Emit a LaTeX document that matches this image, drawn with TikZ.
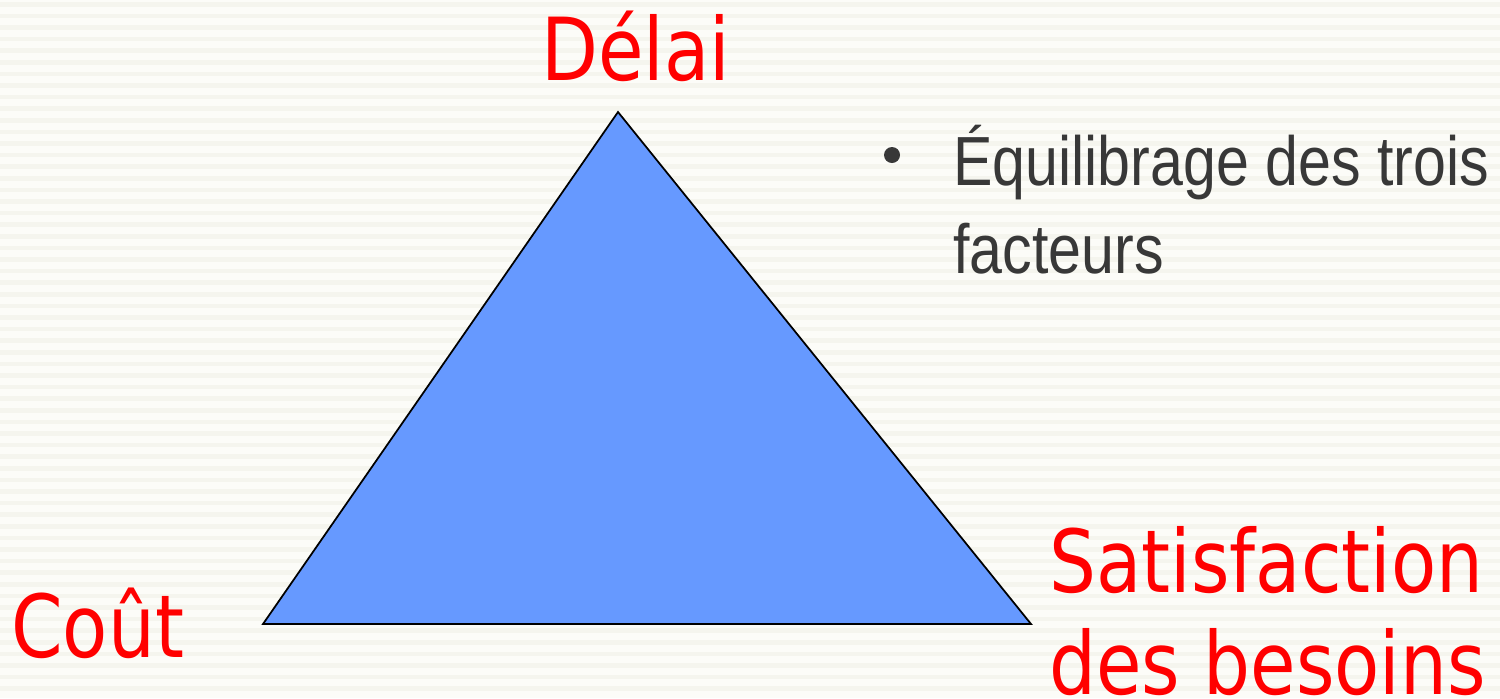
\documentclass[tikz,border=0pt]{standalone}
\usepackage{fontspec}
\newfontfamily\redfont[FakeStretch=0.85]{DejaVu Sans}
\newfontfamily\grayfont[FakeStretch=0.85]{Liberation Sans}
\definecolor{bgbase}{RGB}{252,252,248}
\definecolor{bgstripe}{RGB}{245,245,238}
\definecolor{trifill}{RGB}{102,153,255}
\definecolor{labelred}{RGB}{255,0,0}
\definecolor{bodygray}{RGB}{56,56,56}
\tikzset{
  redlabel/.style={anchor=base west, inner sep=0pt, text=labelred,
    font=\redfont\fontsize{49.5}{58}\selectfont},
  graytext/.style={anchor=base west, inner sep=0pt, text=bodygray,
    font=\grayfont\fontsize{39.6}{48}\selectfont},
  bulletdot/.style={circle, fill=bodygray, inner sep=0pt, minimum size=3.2mm},
  tri/.style={draw=black, line width=0.35mm, fill=trifill, line join=miter}
}
\begin{document}
\begin{tikzpicture}[x=0.02cm, y=-0.02cm]
\useasboundingbox (0,0) rectangle (1500,698);
\fill[bgbase] (0,0) rectangle (1500,698);
\foreach \yy in {2,13.6,...,698} {
  \fill[bgstripe] (0,\yy) rectangle (1500,\yy+4.5);
}
% triangle
\coordinate (apex) at (618,112);
\coordinate (bl) at (263,624);
\coordinate (br) at (1031,624);
\draw[tri] (apex) -- (br) -- (bl) -- cycle;
% labels
\node[redlabel] (delai) at (541,80) {Délai};
\node[redlabel] (cout) at (11,657) {Coût};
\node[redlabel] (sat1) at (1049,592) {Satisfaction};
\node[redlabel] (sat2) at (1049,694) {des besoins};
% bullet text
\node[bulletdot] (bul) at (892,155) {};
\node[graytext] (eq1) at (953,185) {Équilibrage des trois};
\node[graytext] (eq2) at (953,273) {facteurs};
\end{tikzpicture}
\end{document}
